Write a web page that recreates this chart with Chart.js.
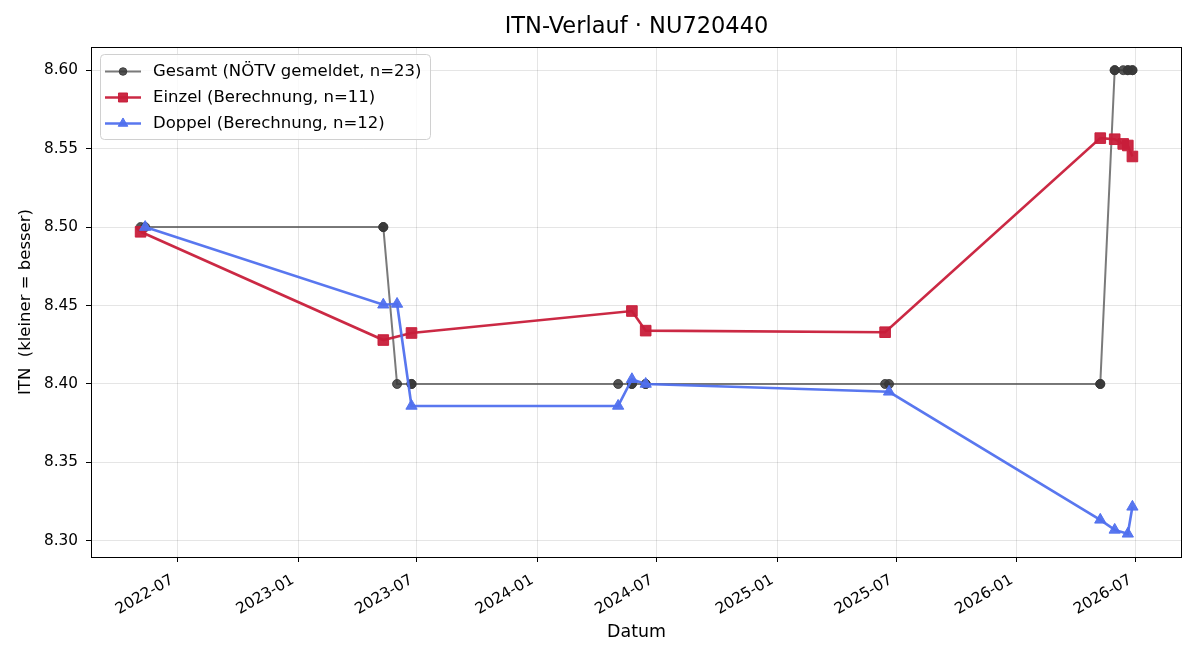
<!DOCTYPE html>
<html>
<head>
<meta charset="utf-8">
<script src="https://cdn.jsdelivr.net/npm/chart.js@4.4.1/dist/chart.umd.min.js"></script>
<style>
html,body{margin:0;padding:0;background:#fff;}
#wrap{width:1200px;height:660px;}
</style>
</head>
<body>
<div id="wrap"><canvas id="c" width="1200" height="660"></canvas></div>
<script>
// ---- data ----
const gesamtDates = ["2022-05-06","2022-05-13","2023-05-11","2023-05-11","2023-06-01","2023-06-23","2023-06-23","2024-05-03","2024-05-24","2024-05-24","2024-06-14","2024-06-14","2025-06-14","2025-06-20","2026-05-08","2026-05-08","2026-05-30","2026-05-30","2026-06-12","2026-06-19","2026-06-19","2026-06-26","2026-06-26"];
const gesamtITN   = [8.50,8.50,8.50,8.50,8.40,8.40,8.40,8.40,8.40,8.40,8.40,8.40,8.40,8.40,8.40,8.40,8.60,8.60,8.60,8.60,8.60,8.60,8.60];

const einzelDates = ["2022-05-06","2023-05-11","2023-06-23","2024-05-24","2024-06-14","2025-06-14","2026-05-08","2026-05-30","2026-06-12","2026-06-19","2026-06-26"];
const einzelITN   = [8.497,8.428,8.4325,8.4465,8.434,8.433,8.5567,8.556,8.553,8.552,8.545];

const doppelDates = ["2022-05-13","2023-05-11","2023-06-01","2023-06-23","2024-05-03","2024-05-24","2024-06-14","2025-06-20","2026-05-08","2026-05-30","2026-06-19","2026-06-26"];
const doppelITN   = [8.500,8.4505,8.451,8.386,8.386,8.403,8.400,8.395,8.3134,8.307,8.3045,8.3217];

const seriesLabels = ["Gesamt (NÖTV gemeldet, n=23)","Einzel (Berechnung, n=11)","Doppel (Berechnung, n=12)"];
const xTickLabels = ["2022-07","2023-01","2023-07","2024-01","2024-07","2025-01","2025-07","2026-01","2026-07"];
const yTickValues = [8.30,8.35,8.40,8.45,8.50,8.55,8.60];

// ---- helpers ----
const ts = s => Date.parse(s + "T00:00:00Z");
const pts = (d, v) => d.map((s, i) => ({x: ts(s), y: v[i]}));
const allX = [...gesamtDates, ...einzelDates, ...doppelDates].map(ts);
const allY = [...gesamtITN, ...einzelITN, ...doppelITN];
const xLo = Math.min(...allX), xHi = Math.max(...allX);
const yLo = Math.min(...allY), yHi = Math.max(...allY);
const xm = (xHi - xLo) * 0.05, ym = (yHi - yLo) * 0.05;

const FONT = "'DejaVu Sans', sans-serif";

const frameAndLegend = {
  id: 'frameAndLegend',
  afterDatasetsDraw(chart) {
    const {ctx, chartArea: a} = chart;
    ctx.save();
    ctx.strokeStyle = '#000';
    ctx.lineWidth = 1;
    ctx.strokeRect(Math.round(a.left) + 0.5, Math.round(a.top) + 0.5, Math.round(a.right - a.left) - 1, Math.round(a.bottom - a.top));
    ctx.restore();
  },
  afterDraw(chart) {
    const {ctx} = chart;
    const bx = 100, by = 54, bw = 330, bh = 85, r = 4;
    ctx.save();
    ctx.beginPath();
    ctx.roundRect(bx + 0.5, by + 0.5, bw, bh, r);
    ctx.fillStyle = 'rgba(255,255,255,0.8)';
    ctx.fill();
    ctx.strokeStyle = '#d0d0d0';
    ctx.lineWidth = 1;
    ctx.stroke();
    const rows = [71.5, 97.5, 123.5];
    chart.data.datasets.forEach((ds, i) => {
      const y = rows[i];
      ctx.beginPath();
      ctx.moveTo(105, y); ctx.lineTo(141, y);
      ctx.strokeStyle = ds.borderColor;
      ctx.lineWidth = ds.borderWidth;
      ctx.stroke();
      ctx.fillStyle = ds.pointBackgroundColor;
      ctx.strokeStyle = ds.pointBorderColor;
      ctx.lineWidth = 1;
      Chart.helpers.drawPoint(ctx, {pointStyle: ds.pointStyle, radius: ds.pointRadius * 0.85, rotation: 0, borderWidth: 1}, 123, y);
      ctx.fillStyle = '#000';
      ctx.font = "16.5px " + FONT;
      ctx.textBaseline = 'middle';
      ctx.textAlign = 'left';
      ctx.fillText(ds.label, 153, y);
    });
    ctx.restore();
  }
};

new Chart(document.getElementById('c'), {
  type: 'line',
  data: {
    datasets: [
      {
        label: seriesLabels[0],
        data: pts(gesamtDates, gesamtITN),
        borderColor: 'rgba(85,85,85,0.78)',
        borderWidth: 2,
        pointStyle: 'circle',
        pointRadius: 4.5,
        pointBackgroundColor: 'rgba(55,55,55,0.85)',
        pointBorderColor: 'rgba(55,55,55,0.85)',
        pointBorderWidth: 1,
        tension: 0,
        order: 2
      },
      {
        label: seriesLabels[1],
        data: pts(einzelDates, einzelITN),
        borderColor: 'rgba(200,30,58,0.95)',
        borderWidth: 2.6,
        pointStyle: 'rect',
        pointRadius: 7.5,
        pointBackgroundColor: 'rgba(200,30,58,0.95)',
        pointBorderColor: 'rgba(200,30,58,0.95)',
        pointBorderWidth: 1,
        tension: 0,
        order: 1
      },
      {
        label: seriesLabels[2],
        data: pts(doppelDates, doppelITN),
        borderColor: 'rgba(80,112,238,0.95)',
        borderWidth: 2.6,
        pointStyle: 'triangle',
        pointRadius: 6.5,
        pointBackgroundColor: 'rgba(80,112,238,0.95)',
        pointBorderColor: 'rgba(80,112,238,0.95)',
        pointBorderWidth: 1,
        tension: 0,
        order: 0
      }
    ]
  },
  options: {
    responsive: false,
    animation: false,
    events: [],
    layout: {padding: {left: 0, right: 18, top: 0, bottom: 0}},
    plugins: {
      legend: {display: false},
      tooltip: {enabled: false},
      title: {
        display: true,
        fullSize: false,
        text: 'ITN-Verlauf · NU720440',
        color: '#000',
        font: {family: FONT, size: 22.5, weight: 'normal'},
        padding: {top: 14, bottom: 6}
      }
    },
    scales: {
      x: {
        type: 'linear',
        min: xLo - xm,
        max: xHi + xm,
        afterFit: s => { s.height = 103; },
        afterBuildTicks: s => { s.ticks = xTickLabels.map(l => ({value: ts(l + "-01")})); },
        border: {display: false},
        grid: {color: 'rgba(0,0,0,0.1)', tickColor: '#000', tickLength: 5, lineWidth: 1},
        ticks: {
          autoSkip: false, minRotation: 30, maxRotation: 30, padding: 9, labelOffset: -5,
          color: '#000', font: {family: FONT, size: 15.3},
          callback: v => new Date(v).toISOString().slice(0, 7)
        },
        title: {display: true, text: 'Datum', color: '#000', font: {family: FONT, size: 17.4}, padding: {top: 0, bottom: 16.6}}
      },
      y: {
        type: 'linear',
        min: yLo - ym,
        max: yHi + ym,
        afterFit: s => { s.width = 91; },
        afterBuildTicks: s => { s.ticks = yTickValues.map(v => ({value: v})); },
        border: {display: false},
        grid: {color: 'rgba(0,0,0,0.1)', tickColor: '#000', tickLength: 5, lineWidth: 1},
        ticks: {color: '#000', padding: 8, font: {family: FONT, size: 15.3}, callback: v => Number(v).toFixed(2)},
        title: {display: true, text: 'ITN  (kleiner = besser)', color: '#000', font: {family: FONT, size: 16.5}, padding: {top: 16, bottom: 0}}
      }
    }
  },
  plugins: [frameAndLegend]
});
</script>
</body>
</html>
